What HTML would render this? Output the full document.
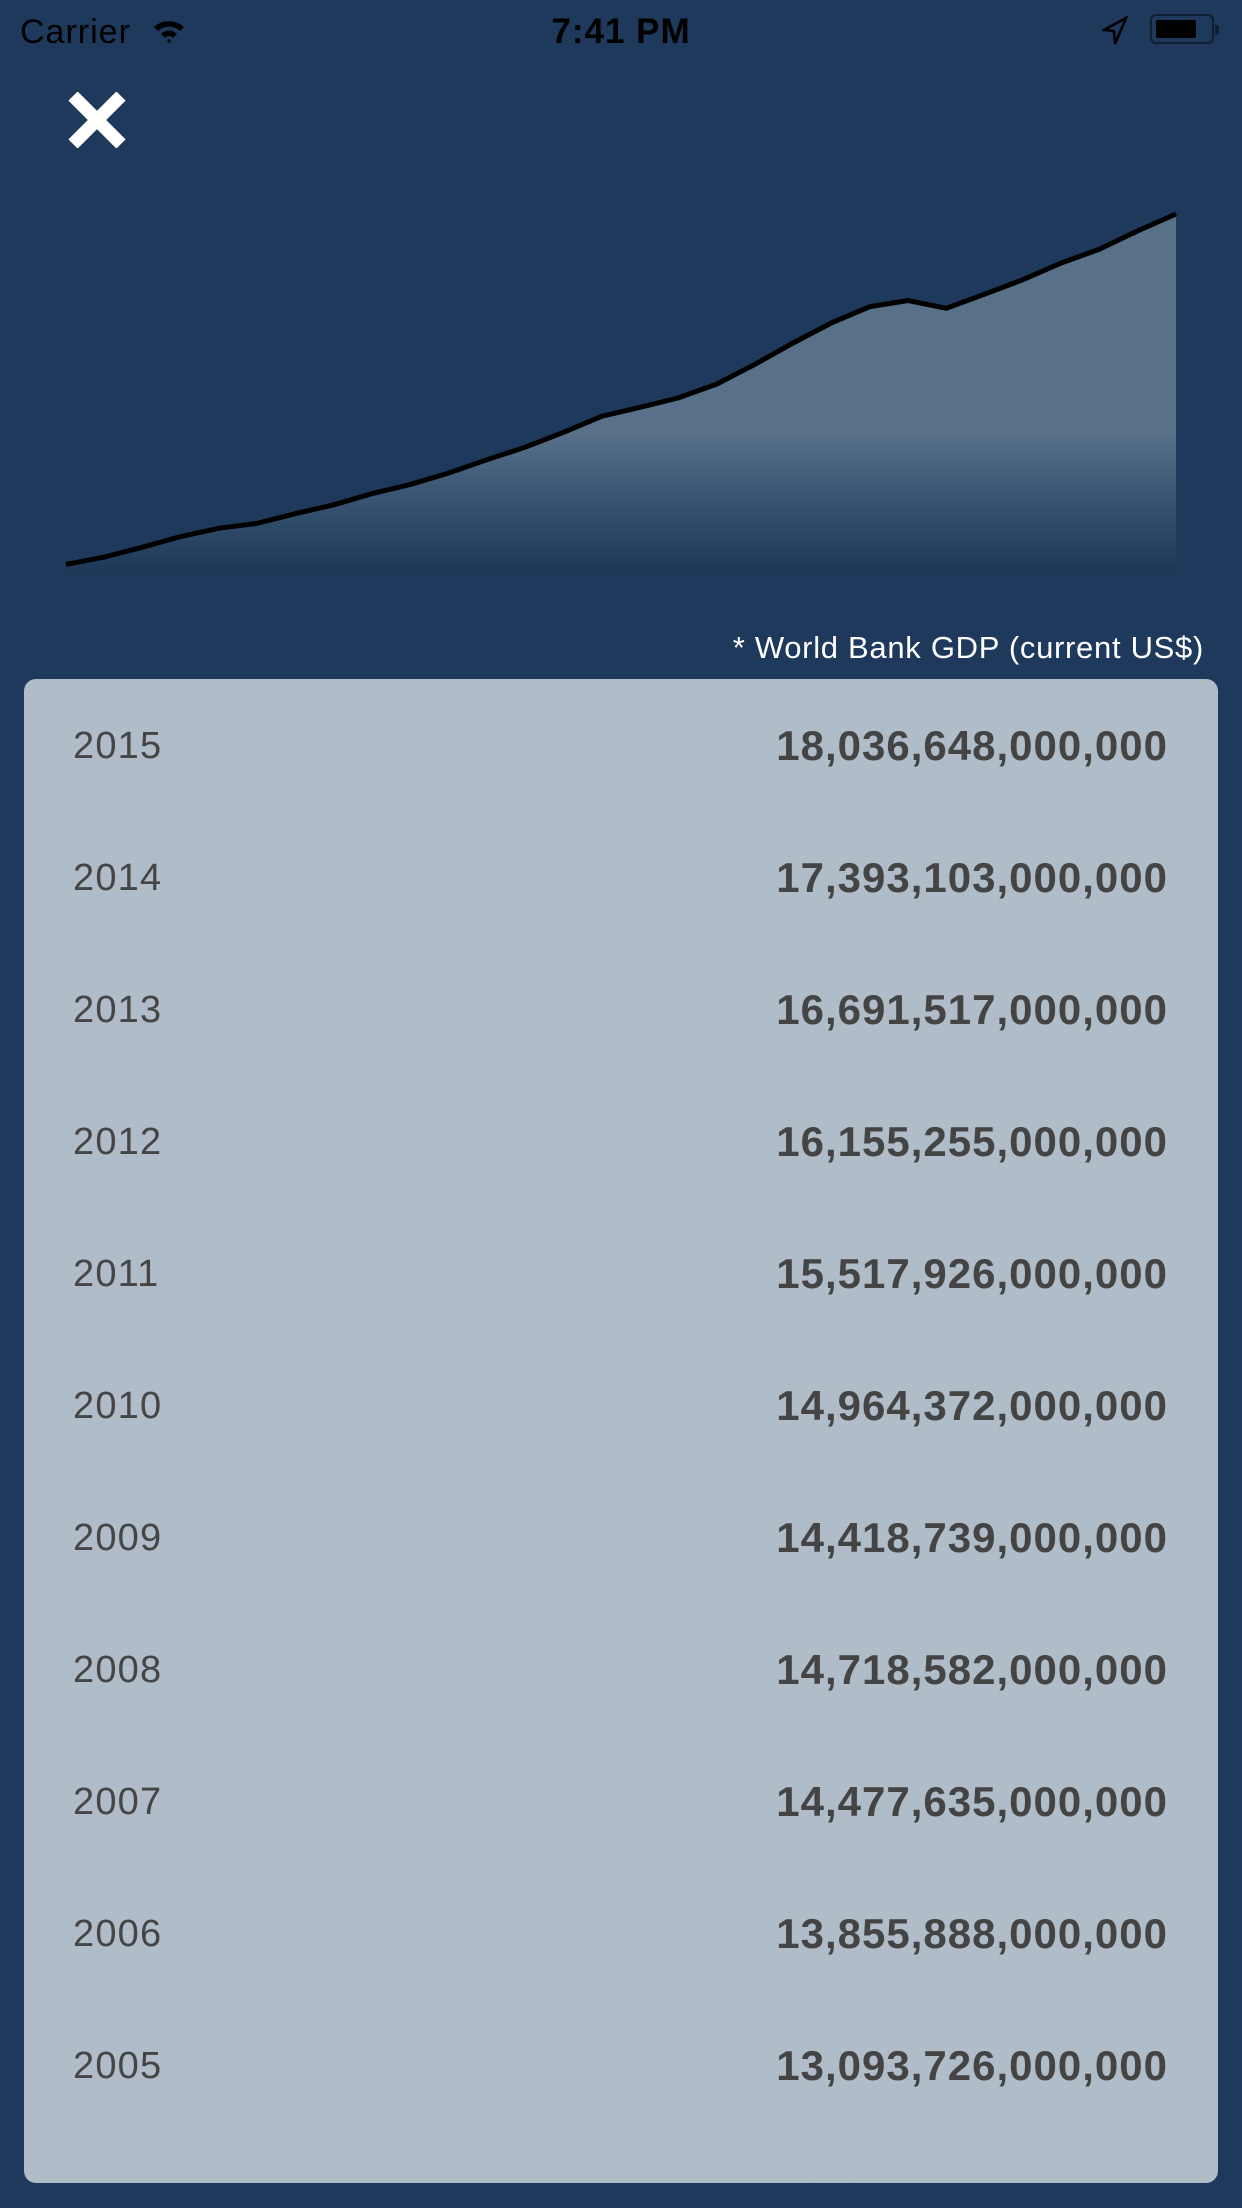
<!DOCTYPE html>
<html><head><meta charset="utf-8">
<style>
html,body{margin:0;padding:0}
body{width:1242px;height:2208px;background:#1e395b;position:relative;overflow:hidden;font-family:"Liberation Sans",sans-serif}
.sb{position:absolute;top:12px;font-size:34px;color:#000;line-height:40px;letter-spacing:1px}
#card{position:absolute;left:24px;top:679px;width:1194px;height:1504px;background:#b0bcc8;border-radius:12px;overflow:hidden}
.row{position:absolute;left:0;width:1194px;height:60px;font-size:38px;color:#454545;line-height:60px}
.yr{position:absolute;left:49px;letter-spacing:1.2px}
.val{position:absolute;right:51px;font-weight:bold;color:#444;letter-spacing:1px;margin-right:-1px;font-size:42px}
</style></head><body>
<div class="sb" style="left:20px">Carrier</div>
<svg style="position:absolute;left:152px;top:18px" width="34" height="26" viewBox="0 0 34 26">
<path d="M2 9 A22 22 0 0 1 32 9 L28 13 A16 16 0 0 0 6 13Z M9 16 A11 11 0 0 1 25 16 L21 20 A5 5 0 0 0 13 20Z M15 23 L17 21 L19 23 L17 25Z" fill="#000"/></svg>
<div class="sb" style="left:0;width:1242px;text-align:center;font-weight:bold;font-size:35px">7:41 PM</div>
<svg style="position:absolute;left:1102px;top:16px" width="26" height="30" viewBox="0 0 26 30"><path d="M24 2 L2 14 L12 15 L13 28Z" fill="none" stroke="#000" stroke-width="2.5"/></svg>
<div style="position:absolute;left:1150px;top:14px;width:64px;height:30px;border:2px solid #0f1e30;border-radius:6px;box-sizing:border-box">
<div style="position:absolute;left:4px;top:4px;width:40px;height:18px;background:#000;border-radius:2px"></div>
<div style="position:absolute;right:-7px;top:9px;width:4px;height:10px;background:#0f1e30;border-radius:0 3px 3px 0"></div></div>
<svg style="position:absolute;left:67px;top:92px" width="60" height="56" viewBox="0 0 60 56">
<path d="M6 4 L54 52 M54 4 L6 52" stroke="#fff" stroke-width="13"/></svg>
<svg id="chart" style="position:absolute;left:0;top:0" width="1242" height="620">
<defs><linearGradient id="g" x1="0" y1="0" x2="0" y2="620" gradientUnits="userSpaceOnUse">
<stop offset="0.70" stop-color="#587189"/><stop offset="0.78" stop-color="#3f5a78"/><stop offset="0.92" stop-color="#1e3858"/></linearGradient></defs>
</svg>
<div style="position:absolute;right:38px;top:628px;font-size:31px;color:#fff;line-height:40px;letter-spacing:0.7px">* World Bank GDP (current US$)</div>
<div id="card"></div>
<script>
const years=[1986,1987,1988,1989,1990,1991,1992,1993,1994,1995,1996,1997,1998,1999,2000,2001,2002,2003,2004,2005,2006,2007,2008,2009,2010,2011,2012,2013,2014,2015];
const gdp=[4.59,4.87,5.25,5.66,5.98,6.17,6.54,6.88,7.31,7.66,8.10,8.61,9.09,9.66,10.28,10.62,10.98,11.51,12.27,13.09,13.86,14.48,14.72,14.42,14.96,15.52,16.16,16.69,17.39,18.04];
const tableYears=["2015","2014","2013","2012","2011","2010","2009","2008","2007","2006","2005","2004"];
const tableValues=["18,036,648,000,000","17,393,103,000,000","16,691,517,000,000","16,155,255,000,000","15,517,926,000,000","14,964,372,000,000","14,418,739,000,000","14,718,582,000,000","14,477,635,000,000","13,855,888,000,000","13,093,726,000,000","12,274,928,000,000"];
const svg=document.getElementById('chart');const NS='http://www.w3.org/2000/svg';
const x0=66,x1=1176,yMax=Math.max(...gdp),yTopPx=214,yZeroPx=684,fillBottom=578;
const X=i=>x0+(x1-x0)*i/(years.length-1);
const Y=v=>yZeroPx-(yZeroPx-yTopPx)*v/yMax;
let pts=gdp.map((v,i)=>X(i).toFixed(1)+','+Y(v).toFixed(1));
const area=document.createElementNS(NS,'path');
area.setAttribute('d','M'+pts.join(' L')+' L'+X(gdp.length-1)+','+fillBottom+' L'+x0+','+fillBottom+'Z');
area.setAttribute('fill','url(#g)');


svg.appendChild(area);
const line=document.createElementNS(NS,'polyline');
line.setAttribute('points',pts.join(' '));
line.setAttribute('fill','none');line.setAttribute('stroke','#000');line.setAttribute('stroke-width','5');


svg.appendChild(line);
const card=document.getElementById('card');
tableYears.forEach((y,i)=>{
 const r=document.createElement('div');r.className='row';r.style.top=(37+132*i)+'px';
 
 
 const a=document.createElement('span');a.className='yr';a.textContent=y;
 
 
 const b=document.createElement('span');b.className='val';b.textContent=tableValues[i];
 
 
 r.appendChild(a);r.appendChild(b);card.appendChild(r);
});
</script>
</body></html>
